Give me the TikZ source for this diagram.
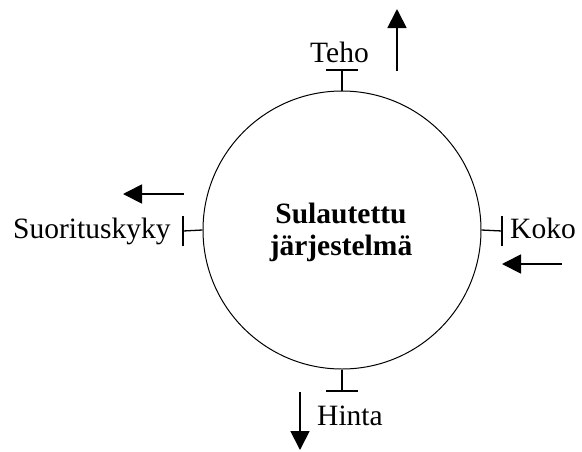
\documentclass[tikz,border=0pt]{standalone}
\usepackage{fontspec}
\setmainfont{Liberation Serif}
\usetikzlibrary{arrows.meta}
\begin{document}
\begin{tikzpicture}[x=1pt,y=-1pt,
  lbl/.style={inner sep=0pt,anchor=base west,font=\fontsize{29.5}{33}\selectfont},
  ctr/.style={inner sep=0pt,anchor=base,font=\fontsize{29.5}{33}\selectfont\bfseries},
  tick/.style={line width=1.3pt},
  bigarrow/.style={line width=1.8pt,-{Triangle[length=19pt,width=19pt]}}]
\useasboundingbox (0,0) rectangle (582,451);
\node[circle,draw,line width=1pt,minimum size=278pt,inner sep=0pt] (sys) at (342,230) {};
\node[ctr] (l1) at (341,223) {Sulautettu};
\node[ctr] (l2) at (341,255) {järjestelmä};
% top
\coordinate (tt) at (342,70);
\draw[tick] (sys.north) -- (tt);
\draw[tick] ([xshift=-16pt]tt) -- ([xshift=16pt]tt);
\node[lbl] (teho) at (310,62) {Teho};
\coordinate (ta0) at (397,71);
\coordinate (ta1) at (397,9);
\draw[bigarrow] (ta0) -- (ta1);
% left
\coordinate (lt) at (183,231);
\draw[tick] (sys.west) -- (lt);
\draw[tick] ([yshift=-15pt]lt) -- ([yshift=15pt]lt);
\node[lbl] (suor) at (13,238) {Suorituskyky};
\coordinate (la0) at (184,194);
\coordinate (la1) at (123,194);
\draw[bigarrow] (la0) -- (la1);
% right
\coordinate (rt) at (502,231);
\draw[tick] (sys.east) -- (rt);
\draw[tick] ([yshift=-15pt]rt) -- ([yshift=15pt]rt);
\node[lbl] (koko) at (510,238) {Koko};
\coordinate (ra0) at (562,264);
\coordinate (ra1) at (502,264);
\draw[bigarrow] (ra0) -- (ra1);
% bottom
\coordinate (bt) at (342,391);
\draw[tick] (sys.south) -- (bt);
\draw[tick] ([xshift=-16pt]bt) -- ([xshift=16pt]bt);
\node[lbl] (hinta) at (317,425) {Hinta};
\coordinate (ba0) at (300,392);
\coordinate (ba1) at (300,450);
\draw[bigarrow] (ba0) -- (ba1);
\end{tikzpicture}
\end{document}
